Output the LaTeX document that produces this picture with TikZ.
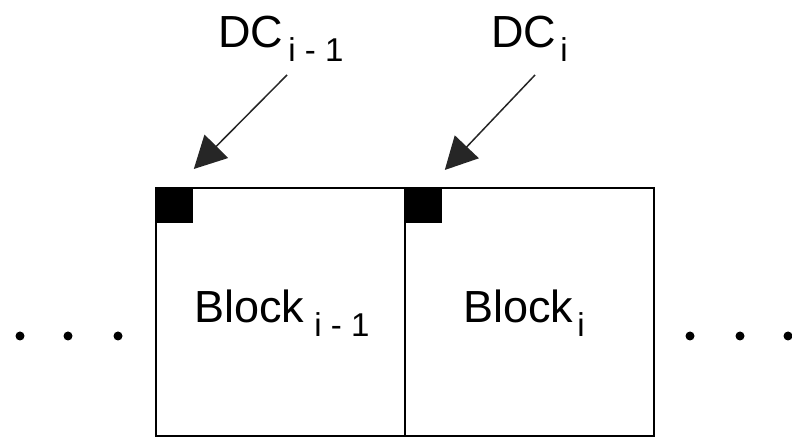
\documentclass[tikz,border=0pt]{standalone}
\usepackage{fontspec}
\setmainfont{Liberation Sans}
\usepackage{tikz}
\usetikzlibrary{arrows.meta}
\tikzstyle{block}=[rectangle, draw=black, line width=1pt, inner sep=0pt, minimum width=124.5pt, minimum height=124pt, anchor=north west]
\tikzstyle{marker} = [rectangle, fill=black, inner sep=0pt, minimum width=19pt, minimum height=18pt, anchor=north west]
\tikzstyle{lbl} = [inner sep=0pt, anchor=base west, font=\fontsize{22.5}{27}\selectfont]
\tikzstyle{pointer} = [draw, line width=.75pt, -{Triangle[length=16pt, width=16.5pt]}, black!85]
\tikzstyle{dot} = [circle, fill=black, inner sep=0pt, minimum size=4.5pt]
\newcommand{\subidx}[1]{\raisebox{-7pt}{\fontsize{16.5}{20}\selectfont #1}}

\begin{document}
\begin{tikzpicture}[x=0.5pt, y=-0.5pt]
				\useasboundingbox (0,0) rectangle (792,437);

				\node[block] (b_1) at (155, 187) {};
				\node[block] (b_2) at (404, 187) {};

				\node[marker] (m_1) at (b_1.north west) {};
				\node[marker] (m_2) at (b_2.north west) {};

				\node[lbl] (t_1) at (194, 323) {Block\hspace{5pt}\subidx{i - 1}};
				\node[lbl] (t_2) at (463, 323) {Block\hspace{2pt}\subidx{i}};

				\node[lbl] (dc_1) at (218, 48) {DC\hspace{2.5pt}\subidx{i - 1}};
				\node[lbl] (dc_2) at (491, 48) {DC\hspace{2pt}\subidx{i}};

				\coordinate (s_1) at (287, 75);
				\coordinate (s_2) at (535, 75);

				\draw[pointer] (s_1) -- ([shift={(0pt,9pt)}]m_1.north east);
				\draw[pointer] (s_2) -- ([shift={(1pt,8.5pt)}]m_2.north east);

				% dots on both sides
				\node[dot] (d_1) at (20, 336) {};
				\node[dot] (d_2) at (68, 336) {};
				\node[dot] (d_3) at (118, 336) {};
				\node[dot] (d_4) at (690, 336) {};
				\node[dot] (d_5) at (740, 336) {};
				\node[dot] (d_6) at (788, 336) {};
			\end{tikzpicture}
\end{document}
